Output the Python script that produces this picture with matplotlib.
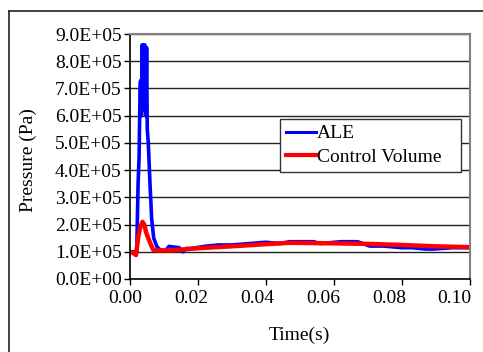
import numpy as np
import matplotlib
matplotlib.use('Agg')
import matplotlib.pyplot as plt
from matplotlib.lines import Line2D
from matplotlib.ticker import FormatStrFormatter, MultipleLocator
from matplotlib.transforms import ScaledTranslation

plt.rcParams['font.family'] = ['Liberation Serif', 'DejaVu Serif']

# ALE series (time in s, pressure in Pa)
ale_t = [0.0, 0.0020, 0.0024, 0.0027, 0.0030, 0.0032, 0.0034, 0.0036, 0.0038,
         0.0040, 0.0044, 0.0047, 0.0049, 0.0051, 0.0054, 0.0059, 0.0064,
         0.0070, 0.0079, 0.0090, 0.0105, 0.0115, 0.0125, 0.0145, 0.0155,
         0.0165, 0.0180, 0.0220, 0.0260, 0.0300, 0.0350, 0.0400, 0.0440,
         0.0470, 0.0540, 0.0560, 0.0620, 0.0670, 0.0705, 0.0745, 0.0800,
         0.0830, 0.0870, 0.0890, 0.0950, 0.1000]
ale_p = [1.00e5, 1.00e5, 3.5e5, 4.5e5, 7.2e5, 7.3e5, 6.0e5, 8.6e5, 6.2e5,
         8.6e5, 8.6e5, 6.0e5, 8.5e5, 5.5e5, 5.0e5, 3.5e5, 2.2e5,
         1.5e5, 1.2e5, 1.05e5, 1.05e5, 1.2e5, 1.18e5, 1.15e5, 1.0e5,
         1.12e5, 1.12e5, 1.2e5, 1.25e5, 1.25e5, 1.3e5, 1.35e5, 1.3e5,
         1.37e5, 1.37e5, 1.3e5, 1.37e5, 1.37e5, 1.21e5, 1.21e5, 1.15e5,
         1.15e5, 1.10e5, 1.10e5, 1.15e5, 1.15e5]

# Control Volume series
cv_t = [0.0, 0.0010, 0.0018, 0.0024, 0.0030, 0.0037, 0.0042, 0.0048, 0.0054,
        0.0062, 0.0068, 0.0080, 0.0120, 0.0200, 0.0300, 0.0400, 0.0470,
        0.0600, 0.0700, 0.0800, 0.0900, 0.1000]
cv_p = [1.00e5, 0.95e5, 0.88e5, 1.5e5, 1.9e5, 2.1e5, 2.0e5, 1.7e5, 1.5e5,
        1.25e5, 1.08e5, 1.05e5, 1.05e5, 1.13e5, 1.2e5, 1.28e5, 1.33e5,
        1.31e5, 1.29e5, 1.25e5, 1.2e5, 1.17e5]

fs = 14

fig = plt.figure(figsize=(4.83, 3.52), dpi=100)
ax = fig.add_axes([0.269, 0.2074, 0.704, 0.696])

ax.plot(ale_t, ale_p, color='#0000ff', lw=2.6, label='ALE')
ax.plot(cv_t, cv_p, color='#ff0000', lw=3.2, label='Control Volume')

ax.set_xlim(0, 0.1)
ax.set_ylim(0, 9e5)
ax.xaxis.set_major_locator(MultipleLocator(0.02))
ax.yaxis.set_major_locator(MultipleLocator(1e5))
ax.xaxis.set_major_formatter(FormatStrFormatter('%.2f'))
ax.yaxis.set_major_formatter(FormatStrFormatter('%.1E'))

ax.grid(axis='y', color='#222222', lw=1.0)
ax.set_axisbelow(True)
for s in ['top', 'right']:
    ax.spines[s].set_color('#808080')
    ax.spines[s].set_linewidth(1.5)
for s in ['left', 'bottom']:
    ax.spines[s].set_color('black')
    ax.spines[s].set_linewidth(1.2)

ax.tick_params(direction='out', length=4, width=1, labelsize=fs, pad=2)
ax.tick_params(axis='x', pad=4)

# Excel-like label placement: x labels drift slightly left of their ticks
for i, lab in enumerate(ax.get_xticklabels()):
    dx = -(2 + 2.2 * i) / 100
    lab.set_transform(lab.get_transform() + ScaledTranslation(dx, 0, fig.dpi_scale_trans))

ax.set_ylabel('Pressure (Pa)', fontsize=fs)
ax.yaxis.set_label_coords(-0.30, 0.486)
ax.yaxis.label.set_va('center')
ax.set_xlabel('Time(s)', fontsize=fs)
ax.xaxis.set_label_coords(0.497, -0.232)
ax.xaxis.label.set_va('center')

leg = ax.legend(loc='upper left', bbox_to_anchor=(0.441, 0.449, 0.532, 0.204),
                mode='expand', fontsize=fs, frameon=True, fancybox=False,
                shadow=False, borderpad=0.3, handlelength=1.55,
                handletextpad=0.05, labelspacing=0.3, borderaxespad=0)
leg.get_frame().set_edgecolor('#333333')
leg.get_frame().set_linewidth(1.0)
leg.get_frame().set_alpha(1)
leg.get_lines()[0].set_linewidth(2.2)
leg.get_lines()[1].set_linewidth(3.0)

# outer chart frame (clipped by the image edge on right and bottom)
x0 = 8.5 / 483
y0 = 1 - 10.5 / 352
fig.add_artist(Line2D([x0, x0], [0, y0], color='#222222', lw=1.2))
fig.add_artist(Line2D([x0, 1], [y0, y0], color='#222222', lw=1.2))

fig.savefig('out.png', dpi=100)
